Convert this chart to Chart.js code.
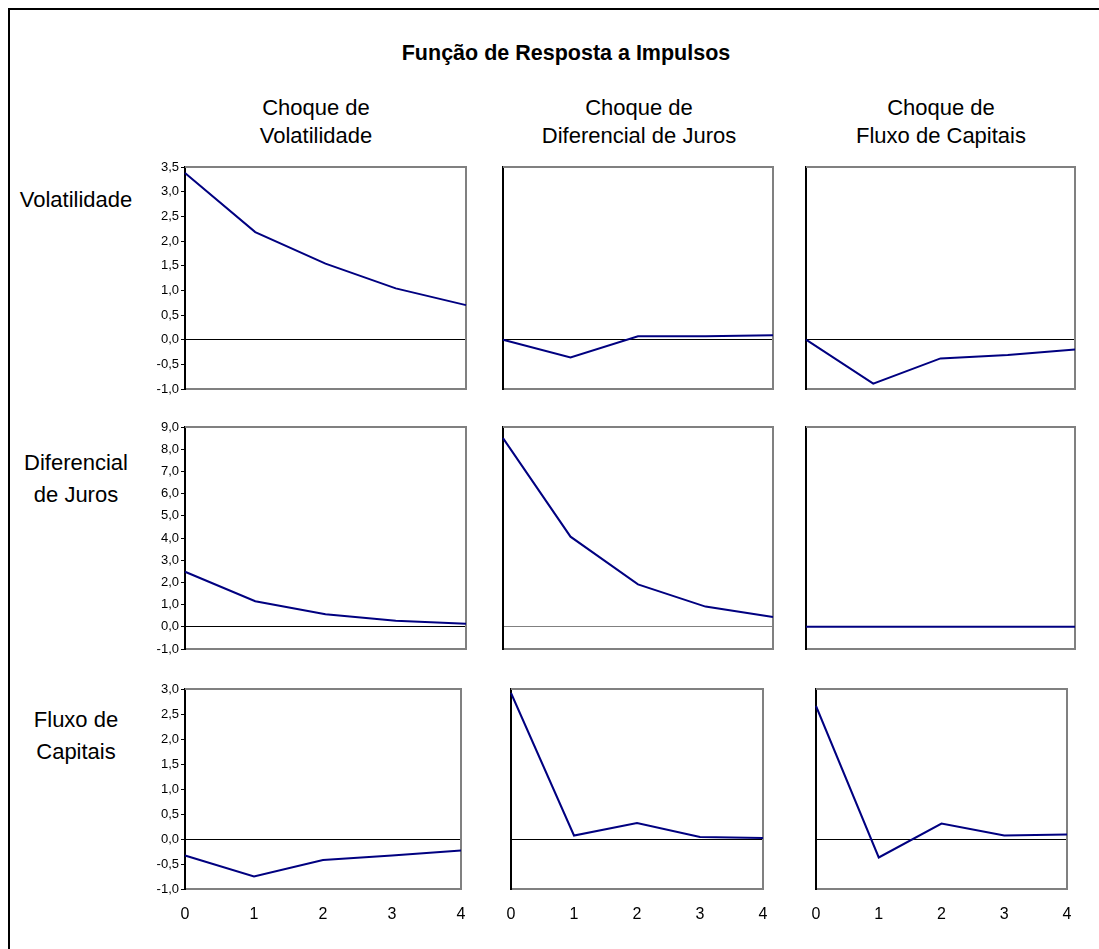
<!DOCTYPE html>
<html>
<head>
<meta charset="utf-8">
<script src="https://cdn.jsdelivr.net/npm/chart.js@4"></script>
<style>
body { margin: 0; background: #fff; width: 1099px; height: 949px; overflow: hidden; position: relative;
       font-family: Arial, 'Liberation Sans', sans-serif; }
#frame { position: absolute; left: 8px; top: 8px; width: 1200px; height: 1100px; border: 2px solid #000; }
.txt { position: absolute; color: #000; text-align: center; white-space: nowrap; transform: translateX(-50%); }
.title { font-size: 21.5px; font-weight: bold; line-height: 28px; }
.head { font-size: 22px; line-height: 28px; }
.row { font-size: 22px; line-height: 32px; }
canvas { position: absolute; }
</style>
</head>
<body>
<div id="frame"></div>
<div class="txt title" style="left:566px; top:39px;">Função de Resposta a Impulsos</div>
<div class="txt head" style="left:316px; top:94px;">Choque de<br>Volatilidade</div>
<div class="txt head" style="left:639px; top:94px;">Choque de<br>Diferencial de Juros</div>
<div class="txt head" style="left:941px; top:94px;">Choque de<br>Fluxo de Capitais</div>
<div class="txt row" style="left:76px; top:184px;">Volatilidade</div>
<div class="txt row" style="left:76px; top:447px;">Diferencial<br>de Juros</div>
<div class="txt row" style="left:76px; top:704px;">Fluxo de<br>Capitais</div>

<script>
// horizon (periods after the shock)
const steps = ['0', '1', '2', '3', '4'];

// response of Volatilidade
const volToVol = [3.38, 2.18, 1.54, 1.04, 0.70];
const volToJuros = [0.00, -0.36, 0.07, 0.07, 0.09];
const volToFluxo = [0.00, -0.89, -0.38, -0.31, -0.20];

// response of Diferencial de Juros
const jurosToVol = [2.48, 1.15, 0.57, 0.27, 0.14];
const jurosToJuros = [8.50, 4.06, 1.91, 0.91, 0.44];
const jurosToFluxo = [0.00, 0.00, 0.00, 0.00, 0.00];

// response of Fluxo de Capitais
const fluxoToVol = [-0.33, -0.75, -0.42, -0.33, -0.23];
const fluxoToJuros = [2.92, 0.07, 0.32, 0.04, 0.02];
const fluxoToFluxo = [2.66, -0.37, 0.31, 0.07, 0.09];

// y axis range per row
const yMin = [-1, -1, -1];
const yMax = [3.5, 9, 3];
const yStep = [0.5, 1, 0.5];

const series = [
    [volToVol, volToJuros, volToFluxo],
    [jurosToVol, jurosToJuros, jurosToFluxo],
    [fluxoToVol, fluxoToJuros, fluxoToFluxo]
];

// plot area of each panel on the page: [left, right], and [top, bottom] per row
const colBox = [
    [[185, 466], [503, 773], [806, 1075]],
    [[185, 466], [503, 773], [806, 1075]],
    [[185, 461], [511, 763], [816, 1067]]
];
const rowBox = [[167, 389], [427, 649], [689, 889]];

const framePlugin = {
    id: 'frame',
    beforeDatasetsDraw(chart) {
        const { ctx, chartArea: a } = chart;
        ctx.save();
        ctx.strokeStyle = '#808080';
        ctx.lineWidth = 2;
        ctx.beginPath();
        ctx.moveTo(a.left, a.top);
        ctx.lineTo(a.right, a.top);
        ctx.lineTo(a.right, a.bottom);
        ctx.stroke();
        ctx.restore();
    }
};

function makePanel(r, c) {
    const padL = 50, padT = 10, padR = 10;
    const padB = r === 2 ? 45 : 10;
    const [x0, x1] = colBox[r][c];
    const [y0, y1] = rowBox[r];

    const canvas = document.createElement('canvas');
    canvas.width = (x1 - x0) + padL + padR;
    canvas.height = (y1 - y0) + padT + padB;
    canvas.style.left = (x0 - padL) + 'px';
    canvas.style.top = (y0 - padT) + 'px';
    document.body.appendChild(canvas);

    const zeroColor = (r === 1 && c === 1) ? '#808080' : '#000';

    new Chart(canvas.getContext('2d'), {
        type: 'line',
        data: {
            labels: steps,
            datasets: [{
                data: series[r][c],
                borderColor: '#000080',
                borderWidth: 2,
                pointRadius: 0,
                tension: 0,
                fill: false
            }]
        },
        options: {
            responsive: false,
            animation: false,
            layout: { padding: { top: padT, right: padR, bottom: r === 2 ? 0 : padB, left: 0 } },
            plugins: { legend: { display: false }, tooltip: { enabled: false }, title: { display: false } },
            scales: {
                x: {
                    offset: false,
                    grid: { display: false },
                    border: { color: '#808080', width: 2 },
                    ticks: {
                        display: r === 2,
                        color: '#000',
                        font: { family: 'Arial, "Liberation Sans"', size: 16 },
                        padding: 8,
                        maxRotation: 0,
                        autoSkip: false
                    },
                    afterFit(scale) {
                        scale.height = r === 2 ? padB : 0;
                        scale.paddingLeft = 0;
                        scale.paddingRight = 0;
                    }
                },
                y: {
                    min: yMin[r],
                    max: yMax[r],
                    ticks: {
                        display: c === 0,
                        stepSize: yStep[r],
                        color: '#000',
                        font: { family: 'Arial, "Liberation Sans"', size: 13 },
                        padding: 2,
                        callback: v => v.toFixed(1).replace('.', ',')
                    },
                    grid: {
                        color: ctx => (ctx.tick && Math.abs(ctx.tick.value) < 1e-9) ? zeroColor : 'rgba(0,0,0,0)',
                        lineWidth: 1,
                        drawTicks: c === 0,
                        tickLength: 4,
                        tickColor: '#000'
                    },
                    border: { color: '#000', width: 2 },
                    afterFit(scale) {
                        scale.width = padL;
                        scale.paddingTop = 0;
                        scale.paddingBottom = 0;
                    }
                }
            }
        },
        plugins: [framePlugin]
    });
}

for (let r = 0; r < 3; r++) {
    for (let c = 0; c < 3; c++) {
        makePanel(r, c);
    }
}
</script>
</body>
</html>
